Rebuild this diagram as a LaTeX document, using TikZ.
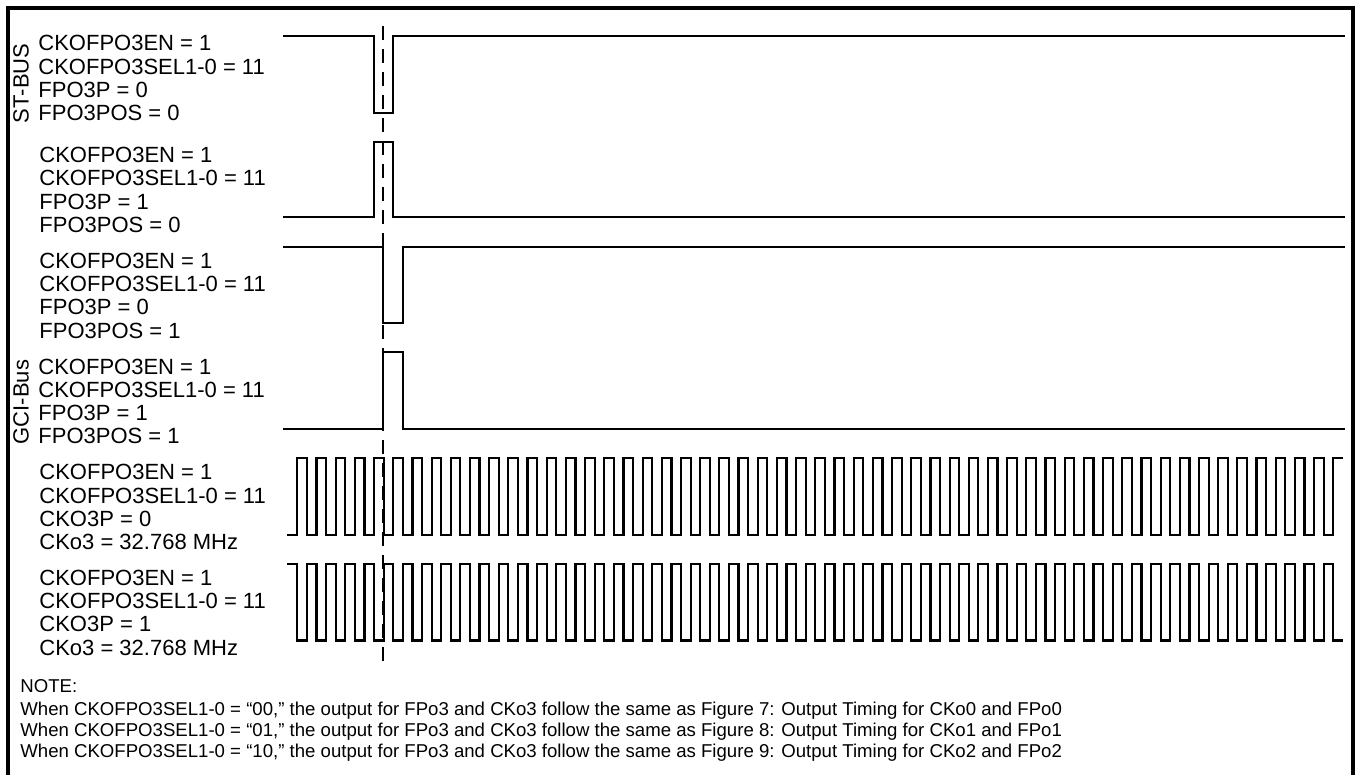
\documentclass[tikz,border=0pt]{standalone}
\usepackage{fontspec}
\setmainfont{Liberation Sans}
\usetikzlibrary{positioning}

\begin{document}
\begin{tikzpicture}[
    x=0.5pt, y=-0.5pt,
    wave/.style={line width=1.1pt, line join=miter},
    frame/.style={line width=1.6pt},
    refline/.style={line width=1.1pt, dash pattern=on 7pt off 4.5pt},
    lbl/.style={anchor=base west, inner sep=0pt, font=\fontsize{11pt}{13pt}\selectfont},
    buslbl/.style={rotate=90, inner sep=0pt, font=\fontsize{11pt}{13pt}\selectfont},
    notetxt/.style={anchor=base west, inner sep=0pt, font=\fontsize{9.3pt}{11pt}\selectfont},
  ]
    \useasboundingbox (0,0) rectangle (1358,775);

    % Frame
    \draw[frame] (8,780) -- (8,8) -- (1353,8) -- (1353,780);

    % Bus names
    \node[buslbl] (stbus) at (21,83.5) {ST-BUS};
    \node[buslbl] (gcibus) at (21,402) {GCI-Bus};

    % Register settings
    \foreach \txt [count=\i from 0] in {CKOFPO3EN = 1, CKOFPO3SEL1-0 = 11, FPO3P = 0, FPO3POS = 0}
      \node[lbl] (a\i) at (38,51+23.2*\i) {\txt};
    \foreach \txt [count=\i from 0] in {CKOFPO3EN = 1, CKOFPO3SEL1-0 = 11, FPO3P = 1, FPO3POS = 0}
      \node[lbl] (b\i) at (39,162.7+23.2*\i) {\txt};
    \foreach \txt [count=\i from 0] in {CKOFPO3EN = 1, CKOFPO3SEL1-0 = 11, FPO3P = 0, FPO3POS = 1}
      \node[lbl] (c\i) at (39,268.4+23.2*\i) {\txt};
    \foreach \txt [count=\i from 0] in {CKOFPO3EN = 1, CKOFPO3SEL1-0 = 11, FPO3P = 1, FPO3POS = 1}
      \node[lbl] (d\i) at (38,374+23.2*\i) {\txt};
    \foreach \txt [count=\i from 0] in {CKOFPO3EN = 1, CKOFPO3SEL1-0 = 11, CKO3P = 0, CKo3 = 32.768 MHz}
      \node[lbl] (e\i) at (39,479.8+23.2*\i) {\txt};
    \foreach \txt [count=\i from 0] in {CKOFPO3EN = 1, CKOFPO3SEL1-0 = 11, CKO3P = 1, CKo3 = 32.768 MHz}
      \node[lbl] (f\i) at (39,585.5+23.2*\i) {\txt};

    % Reference edge
    \coordinate (reftop) at (383,26);
    \coordinate (refbot) at (383,667);
    \draw[refline] (reftop) -- (refbot);

    % Frame pulses
    \draw[wave] (283,35.7) -- (374,35.7) -- (374,113) -- (393,113) -- (393,35.7) -- (1345,35.7);
    \draw[wave] (283,217) -- (374,217) -- (374,141.7) -- (393,141.7) -- (393,217) -- (1345,217);
    \draw[wave] (283,246.7) -- (383.3,246.7) -- (383.3,323.3) -- (403,323.3) -- (403,246.7) -- (1345,246.7);
    \draw[wave] (283,429) -- (383.3,429) -- (383.3,352.3) -- (403,352.3) -- (403,429) -- (1345,429);

    % Clocks
    \draw[wave] (287,534.7) -- (297.3,534.7)
      foreach \k in {1,...,54} { -- ++(0,-76.4) -- ++(9.5925,0) -- ++(0,76.4) -- ++(9.5925,0) }
      -- ++(0,-76.4) -- ++(10,0);
    \draw[wave] (287,564) -- (297.3,564)
      foreach \k in {1,...,54} { -- ++(0,76.4) -- ++(9.5925,0) -- ++(0,-76.4) -- ++(9.5925,0) }
      -- ++(0,76.4) -- ++(10,0);

    % Note
    \node[notetxt] (note) at (20,692) {NOTE:};
    \node[notetxt] (note1) at (20,715.5) {When CKOFPO3SEL1-0 = “00,” the output for FPo3 and CKo3 follow the same as Figure 7: Output Timing for CKo0 and FPo0};
    \node[notetxt] (note2) at (20,736.5) {When CKOFPO3SEL1-0 = “01,” the output for FPo3 and CKo3 follow the same as Figure 8: Output Timing for CKo1 and FPo1};
    \node[notetxt] (note3) at (20,757.5) {When CKOFPO3SEL1-0 = “10,” the output for FPo3 and CKo3 follow the same as Figure 9: Output Timing for CKo2 and FPo2};
  \end{tikzpicture}
\end{document}
